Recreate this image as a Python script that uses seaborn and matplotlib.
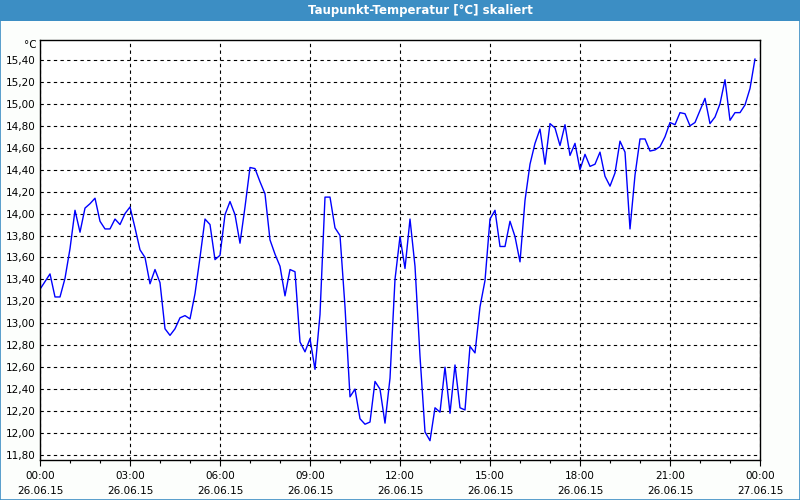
import numpy as np
import pandas as pd
import matplotlib
matplotlib.use("Agg")
import matplotlib.pyplot as plt
import seaborn as sns
from matplotlib.patches import Rectangle
from matplotlib.ticker import MultipleLocator, FuncFormatter

# ---- data (10-minute readings, 26.06.15 00:00 .. 23:50) ----
interval_minutes = 10
dewpoint = [
    13.31, 13.38, 13.45, 13.24, 13.24, 13.41, 13.68, 14.03, 13.83, 14.05,
    14.09, 14.14, 13.93, 13.86, 13.86, 13.95, 13.90, 14.00, 14.06, 13.87,
    13.67, 13.60, 13.36, 13.49, 13.37, 12.95, 12.89, 12.95, 13.05, 13.07,
    13.04, 13.27, 13.60, 13.95, 13.90, 13.58, 13.62, 13.99, 14.11, 13.99,
    13.73, 14.06, 14.42, 14.41, 14.29, 14.18, 13.76, 13.63, 13.52, 13.25,
    13.49, 13.47, 12.83, 12.74, 12.86, 12.58, 13.08, 14.15, 14.15, 13.87,
    13.80, 13.15, 12.33, 12.40, 12.13, 12.08, 12.10, 12.47, 12.40, 12.09,
    12.50, 13.40, 13.79, 13.50, 13.95, 13.52, 12.70, 12.01, 11.93, 12.23,
    12.19, 12.60, 12.18, 12.62, 12.23, 12.21, 12.79, 12.73, 13.15, 13.39,
    13.95, 14.03, 13.70, 13.70, 13.93, 13.79, 13.56, 14.12, 14.45, 14.64,
    14.77, 14.45, 14.82, 14.78, 14.62, 14.81, 14.53, 14.64, 14.40, 14.54,
    14.43, 14.45, 14.56, 14.34, 14.25, 14.37, 14.66, 14.56, 13.86, 14.35,
    14.68, 14.68, 14.57, 14.58, 14.61, 14.70, 14.83, 14.81, 14.92, 14.91,
    14.80, 14.83, 14.94, 15.05, 14.82, 14.88, 15.00, 15.22, 14.85, 14.92,
    14.92, 14.99, 15.14, 15.41,
]
x_tick_labels = ["00:00\n26.06.15", "03:00\n26.06.15", "06:00\n26.06.15",
                 "09:00\n26.06.15", "12:00\n26.06.15", "15:00\n26.06.15",
                 "18:00\n26.06.15", "21:00\n26.06.15", "00:00\n27.06.15"]
y_ticks = [11.8, 12.0, 12.2, 12.4, 12.6, 12.8, 13.0, 13.2, 13.4, 13.6,
           13.8, 14.0, 14.2, 14.4, 14.6, 14.8, 15.0, 15.2, 15.4]
title = "Taupunkt-Temperatur [°C] skaliert"
unit = "°C"

hours = np.arange(len(dewpoint)) * interval_minutes / 60.0
df = pd.DataFrame({"hour": hours, "value": dewpoint})

sns.set_theme(style="white")
plt.rcParams["font.family"] = ["DejaVu Sans"]

fig = plt.figure(figsize=(8, 5), dpi=100)
fig.patch.set_facecolor("#fcfefc")

# title bar
bar_h = 21 / 500
fig.patches.append(Rectangle((0, 1 - bar_h), 1, bar_h, transform=fig.transFigure,
                             facecolor="#3c8ec4", edgecolor="none", zorder=0))
fig.text(0.525, 1 - bar_h / 2, title, color="white", fontsize=8.5,
         fontweight="bold", ha="center", va="center")
# outer border
fig.patches.append(Rectangle((0.0006, 0.001), 0.9988, 0.998, transform=fig.transFigure,
                             facecolor="none", edgecolor="#3c8ec4", linewidth=1.2, zorder=5))

ax = fig.add_axes([40 / 800, 1 - 460 / 500, 720 / 800, 420 / 500])
ax.set_facecolor("white")
sns.lineplot(data=df, x="hour", y="value", ax=ax, color="#0000ff", linewidth=1.0)

ax.set_xlim(0, 24)
ax.set_ylim(11.754, 15.582)
ax.set_xticks(np.arange(0, 25, 3))
ax.set_xticklabels(x_tick_labels, fontsize=7.5, linespacing=1.55)
ax.xaxis.set_minor_locator(MultipleLocator(1))
ax.set_yticks(y_ticks)
ax.yaxis.set_major_formatter(FuncFormatter(lambda v, p: f"{v:.2f}".replace(".", ",")))
ax.tick_params(axis="y", labelsize=7.5, length=0, pad=3, labelcolor="black")
ax.tick_params(axis="x", which="major", direction="out", length=4, width=0.8,
               color="black", pad=4, bottom=True, labelcolor="black")
ax.tick_params(axis="x", which="minor", direction="out", length=2.5, width=0.8,
               color="black", bottom=True)
ax.grid(True, which="major", color="black", linestyle=(0, (3, 3)), linewidth=0.8)
for s in ax.spines.values():
    s.set_color("black")
    s.set_linewidth(1.0)
ax.set_xlabel("")
ax.set_ylabel("")
ax.text(-0.004, 1.0, unit, transform=ax.transAxes, ha="right", va="top",
        fontsize=7.5, color="black")

fig.savefig("out.png", dpi=100, facecolor=fig.get_facecolor())
